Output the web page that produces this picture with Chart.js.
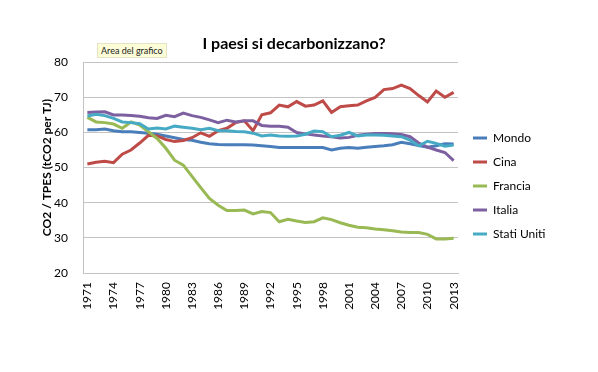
<!DOCTYPE html>
<html lang="it">
<head>
<meta charset="utf-8">
<title>I paesi si decarbonizzano?</title>
<script src="https://cdn.jsdelivr.net/npm/chart.js@4.4.1/dist/chart.umd.min.js"></script>
<style>
  html, body { margin: 0; padding: 0; background: #fff; }
  .wrap { position: relative; width: 598px; height: 372px; }
  /* Excel hover hint left in the screenshot */
  .hint {
    position: absolute; left: 97px; top: 43px;
    padding: 1px 3px; background: #fdfdd8; border: 1px solid #e4e4c4;
    font: 9px Lato, "Liberation Sans", sans-serif; color: #222; line-height: 11px;
  }
</style>
</head>
<body>
<div class="wrap">
  <canvas id="chart" width="598" height="372"></canvas>
  <div class="hint">Area del grafico</div>
</div>
<script>
// --- data ---
const years = [
  "1971", "1972", "1973", "1974", "1975", "1976", "1977", "1978", "1979", "1980",
  "1981", "1982", "1983", "1984", "1985", "1986", "1987", "1988", "1989", "1990",
  "1991", "1992", "1993", "1994", "1995", "1996", "1997", "1998", "1999", "2000",
  "2001", "2002", "2003", "2004", "2005", "2006", "2007", "2008", "2009", "2010",
  "2011", "2012", "2013"
];

const mondo = [
  60.8, 60.8, 61.0, 60.5, 60.2, 60.2, 60.0, 59.8, 59.5, 59.0,
  58.5, 58.0, 57.8, 57.2, 56.8, 56.6, 56.5, 56.5, 56.5, 56.4,
  56.2, 56.0, 55.7, 55.7, 55.7, 55.7, 55.7, 55.7, 55.0, 55.5,
  55.7, 55.5, 55.8, 56.0, 56.2, 56.5, 57.2, 56.8, 56.3, 55.8,
  56.2, 56.8, 56.7
];
const cina = [
  51.0, 51.5, 51.8, 51.4, 53.8, 55.0, 57.0, 59.2, 59.0, 58.0,
  57.4, 57.7, 58.5, 59.9, 58.9, 60.5, 61.2, 62.8, 63.3, 60.5,
  65.0, 65.6, 67.8, 67.3, 68.8, 67.5, 67.8, 69.0, 65.7, 67.3,
  67.6, 67.8, 69.0, 70.0, 72.2, 72.5, 73.5, 72.5, 70.5, 68.7,
  71.8, 70.0, 71.4
];
const francia = [
  64.3, 63.0, 62.8, 62.4, 61.2, 63.0, 62.1, 60.2, 58.3, 55.5,
  52.1, 50.7, 47.5, 44.3, 41.2, 39.3, 37.8, 37.8, 37.9, 36.8,
  37.5, 37.2, 34.6, 35.3, 34.8, 34.4, 34.6, 35.7, 35.2, 34.3,
  33.6, 33.0, 32.9, 32.5, 32.3, 32.0, 31.7, 31.5, 31.5, 31.0,
  29.7, 29.7, 29.9
];
const italia = [
  65.7, 65.8, 65.9, 65.0, 65.0, 64.8, 64.6, 64.2, 64.0, 64.9,
  64.5, 65.5, 64.8, 64.3, 63.6, 62.8, 63.5, 63.0, 63.3, 63.3,
  62.0, 61.8, 61.8, 61.5, 60.0, 59.6, 59.3, 59.0, 58.8, 58.4,
  58.6, 59.2, 59.5, 59.7, 59.7, 59.6, 59.4, 58.8, 57.0, 55.8,
  55.0, 54.3, 52.0
];
const statiUniti = [
  64.7, 65.2, 64.8, 64.0, 63.0, 62.8, 62.5, 61.0, 61.3, 61.0,
  61.8, 61.5, 61.2, 60.8, 61.2, 60.5, 60.5, 60.3, 60.2, 59.8,
  59.0, 59.3, 59.0, 58.9, 59.0, 59.5, 60.4, 60.2, 58.8, 59.2,
  60.0, 59.0, 59.3, 59.3, 59.2, 59.0, 58.8, 57.8, 56.2, 57.5,
  56.9, 56.1, 56.4
];

const seriesNames = ["Mondo", "Cina", "Francia", "Italia", "Stati Uniti"];
const seriesValues = [mondo, cina, francia, italia, statiUniti];
const seriesColors = ["#4a7ebb", "#be4b48", "#98b954", "#7d60a0", "#46aac5"];

const yTicks = [20, 30, 40, 50, 60, 70, 80];
const chartTitle = "I paesi si decarbonizzano?";
const yTitle = "CO2 / TPES (tCO2 per TJ)";

// --- styling ---
const FONT = "Lato, 'Liberation Sans', sans-serif";
const GRID = "#c3c3c3";
const LEGEND_W = 130; // fixed legend column so the plot ends where Excel's does
const LEGEND_NUDGE = 3;

Chart.defaults.font.family = FONT;
Chart.defaults.color = "#000";

// pin the legend width (Chart.js sizes it from the text otherwise)
// and shift it a few px right of the plot edge
const legendWidthFix = {
  id: "legendWidthFix",
  beforeLayout(chart) {
    const lg = chart.legend;
    if (lg && !lg._fixed) {
      const fit = lg.fit.bind(lg);
      lg.fit = function () { fit(); this.width = LEGEND_W; };
      lg._fixed = true;
    }
  },
  afterLayout(chart) {
    const lg = chart.legend;
    if (lg) { lg.left += LEGEND_NUDGE; lg.right += LEGEND_NUDGE; }
  }
};

// later series are painted on top, as in Excel
const datasets = seriesNames.map((name, i) => ({
  label: name,
  data: seriesValues[i],
  borderColor: seriesColors[i],
  backgroundColor: seriesColors[i],
  borderWidth: 3,
  pointRadius: 0,
  tension: 0,
  fill: false,
  order: seriesNames.length - i
}));

new Chart(document.getElementById("chart").getContext("2d"), {
  type: "line",
  data: { labels: years, datasets },
  options: {
    responsive: false,
    animation: false,
    layout: { padding: { left: 0, right: 10, top: 0, bottom: 0 } },
    plugins: {
      title: {
        display: true,
        text: chartTitle,
        color: "#000",
        font: { size: 16, weight: "bold" },
        padding: { top: 34, bottom: 9 }
      },
      legend: {
        position: "right",
        labels: {
          usePointStyle: true,
          pointStyle: "line",
          pointStyleWidth: 14,
          padding: 12,
          color: "#000",
          font: { size: 12 },
          sort: (a, b) => a.datasetIndex - b.datasetIndex
        }
      },
      tooltip: { enabled: false }
    },
    scales: {
      x: {
        offset: true,
        grid: { display: false, drawTicks: false },
        border: { display: true, color: GRID },
        ticks: {
          autoSkip: false,
          minRotation: 90,
          maxRotation: 90,
          padding: 9,
          font: { size: 12 },
          callback(v, i) { return i % 3 === 0 ? this.getLabelForValue(v) : null; }
        },
        afterFit(s) { s.height = 99; }
      },
      y: {
        min: yTicks[0],
        max: yTicks[yTicks.length - 1],
        afterBuildTicks(s) { s.ticks = yTicks.map(v => ({ value: v })); },
        grid: { color: GRID, drawTicks: false },
        border: { display: true, color: GRID },
        ticks: { padding: 15, font: { size: 12 } },
        title: {
          display: true,
          text: yTitle,
          color: "#000",
          font: { size: 12, weight: "bold" },
          padding: { top: 40, bottom: 0 }
        },
        afterFit(s) { s.width = 83; }
      }
    }
  },
  plugins: [legendWidthFix]
});
</script>
</body>
</html>
